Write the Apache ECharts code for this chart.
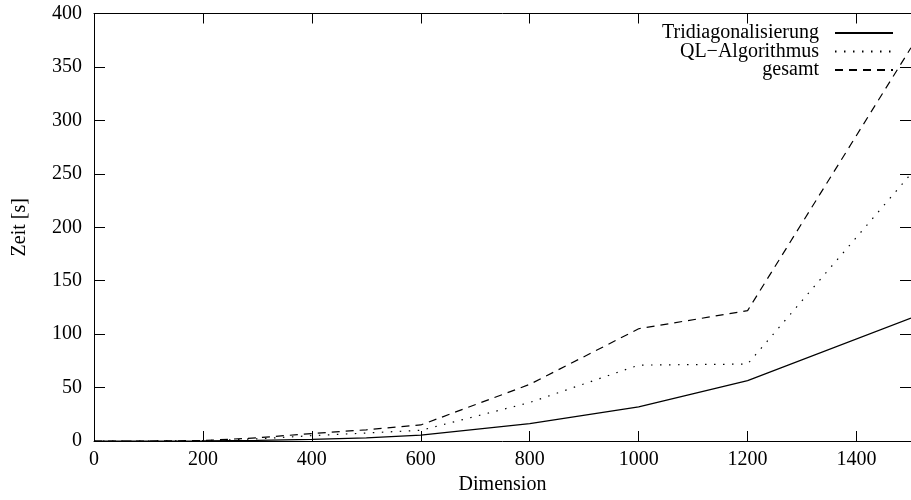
<!DOCTYPE html>
<html>
<head>
<meta charset="utf-8">
<script src="https://cdn.jsdelivr.net/npm/echarts@6/dist/echarts.min.js"></script>
<style>
html,body{margin:0;padding:0;background:#fff;}
#chart{width:911px;height:500px;}
</style>
</head>
<body>
<div id="chart"></div>
<script>
const dims = [0, 100, 200, 300, 400, 500, 600, 800, 1000, 1200, 1500];
const tridiag = [0, 0, 0.1, 0.5, 1.5, 3, 5.5, 16.3, 32, 56.5, 115];
const qlAlg = [0, 0, 0.3, 2, 5, 7.5, 10, 36, 71, 72, 250];
const gesamt = [0, 0, 0.4, 3, 7, 10.5, 15, 53, 105, 122, 368];
const seriesNames = ['Tridiagonalisierung', 'QL\u2212Algorithmus', 'gesamt'];
const xTitle = 'Dimension';
const yTitle = 'Zeit [s]';

const FONT = '"Liberation Serif", "Times New Roman", serif';
const pairs = arr => dims.map((d, i) => [d, arr[i]]);
const plain = v => String(v);

const chart = echarts.init(document.getElementById('chart'), null, {renderer: 'canvas'});
const baseLine = {color: '#000', width: 1.2};
const line = () => ({show: true, onZero: false, lineStyle: {color: '#000', width: 1}});
const tick = len => ({show: true, inside: true, length: len, lineStyle: {color: '#000', width: 1}});
chart.setOption({
  animation: false,
  backgroundColor: '#fff',
  textStyle: {fontFamily: FONT, color: '#000'},
  grid: {left: 94, right: -7, top: 13.5, bottom: 56.5, containLabel: false},
  legend: {
    orient: 'vertical',
    right: 17,
    top: 23,
    padding: 0,
    align: 'right',
    itemWidth: 58,
    itemHeight: 14,
    itemGap: -1.5,
    selectedMode: false,
    itemStyle: {opacity: 0},
    textStyle: {fontFamily: FONT, fontSize: 20, color: '#000', padding: [0, 11, 0, 0]},
    data: seriesNames
  },
  xAxis: [{
    type: 'value', min: 0, max: 1500, interval: 200, position: 'bottom',
    name: xTitle, nameLocation: 'middle', nameGap: 34,
    nameTextStyle: {fontFamily: FONT, fontSize: 20, color: '#000'},
    axisLine: line(),
    axisTick: tick(10),
    axisLabel: {fontFamily: FONT, fontSize: 20, color: '#000', margin: 9, showMaxLabel: false, formatter: plain},
    splitLine: {show: false}
  }, {
    type: 'value', min: 0, max: 1500, interval: 200, position: 'top',
    axisLine: line(),
    axisTick: tick(10),
    axisLabel: {show: false},
    splitLine: {show: false}
  }],
  yAxis: [{
    type: 'value', min: 0, max: 400, interval: 50, position: 'left',
    name: yTitle, nameLocation: 'middle', nameGap: 64, nameRotate: 90,
    nameTextStyle: {fontFamily: FONT, fontSize: 20, color: '#000'},
    axisLine: line(),
    axisTick: tick(11),
    axisLabel: {fontFamily: FONT, fontSize: 20, color: '#000', margin: 12, formatter: plain},
    splitLine: {show: false}
  }, {
    type: 'value', min: 0, max: 400, interval: 50, position: 'right',
    axisLine: line(),
    axisTick: tick(11),
    axisLabel: {show: false},
    splitLine: {show: false}
  }],
  series: [
    {name: seriesNames[0], type: 'line', data: pairs(tridiag), symbol: 'none',
     color: '#000', lineStyle: Object.assign({}, baseLine, {type: 'solid'})},
    {name: seriesNames[1], type: 'line', data: pairs(qlAlg), symbol: 'none',
     color: '#000', lineStyle: Object.assign({}, baseLine, {type: [1.5, 7.5]})},
    {name: seriesNames[2], type: 'line', data: pairs(gesamt), symbol: 'none',
     color: '#000', lineStyle: Object.assign({}, baseLine, {type: [8, 6]})}
  ]
});
</script>
</body>
</html>
